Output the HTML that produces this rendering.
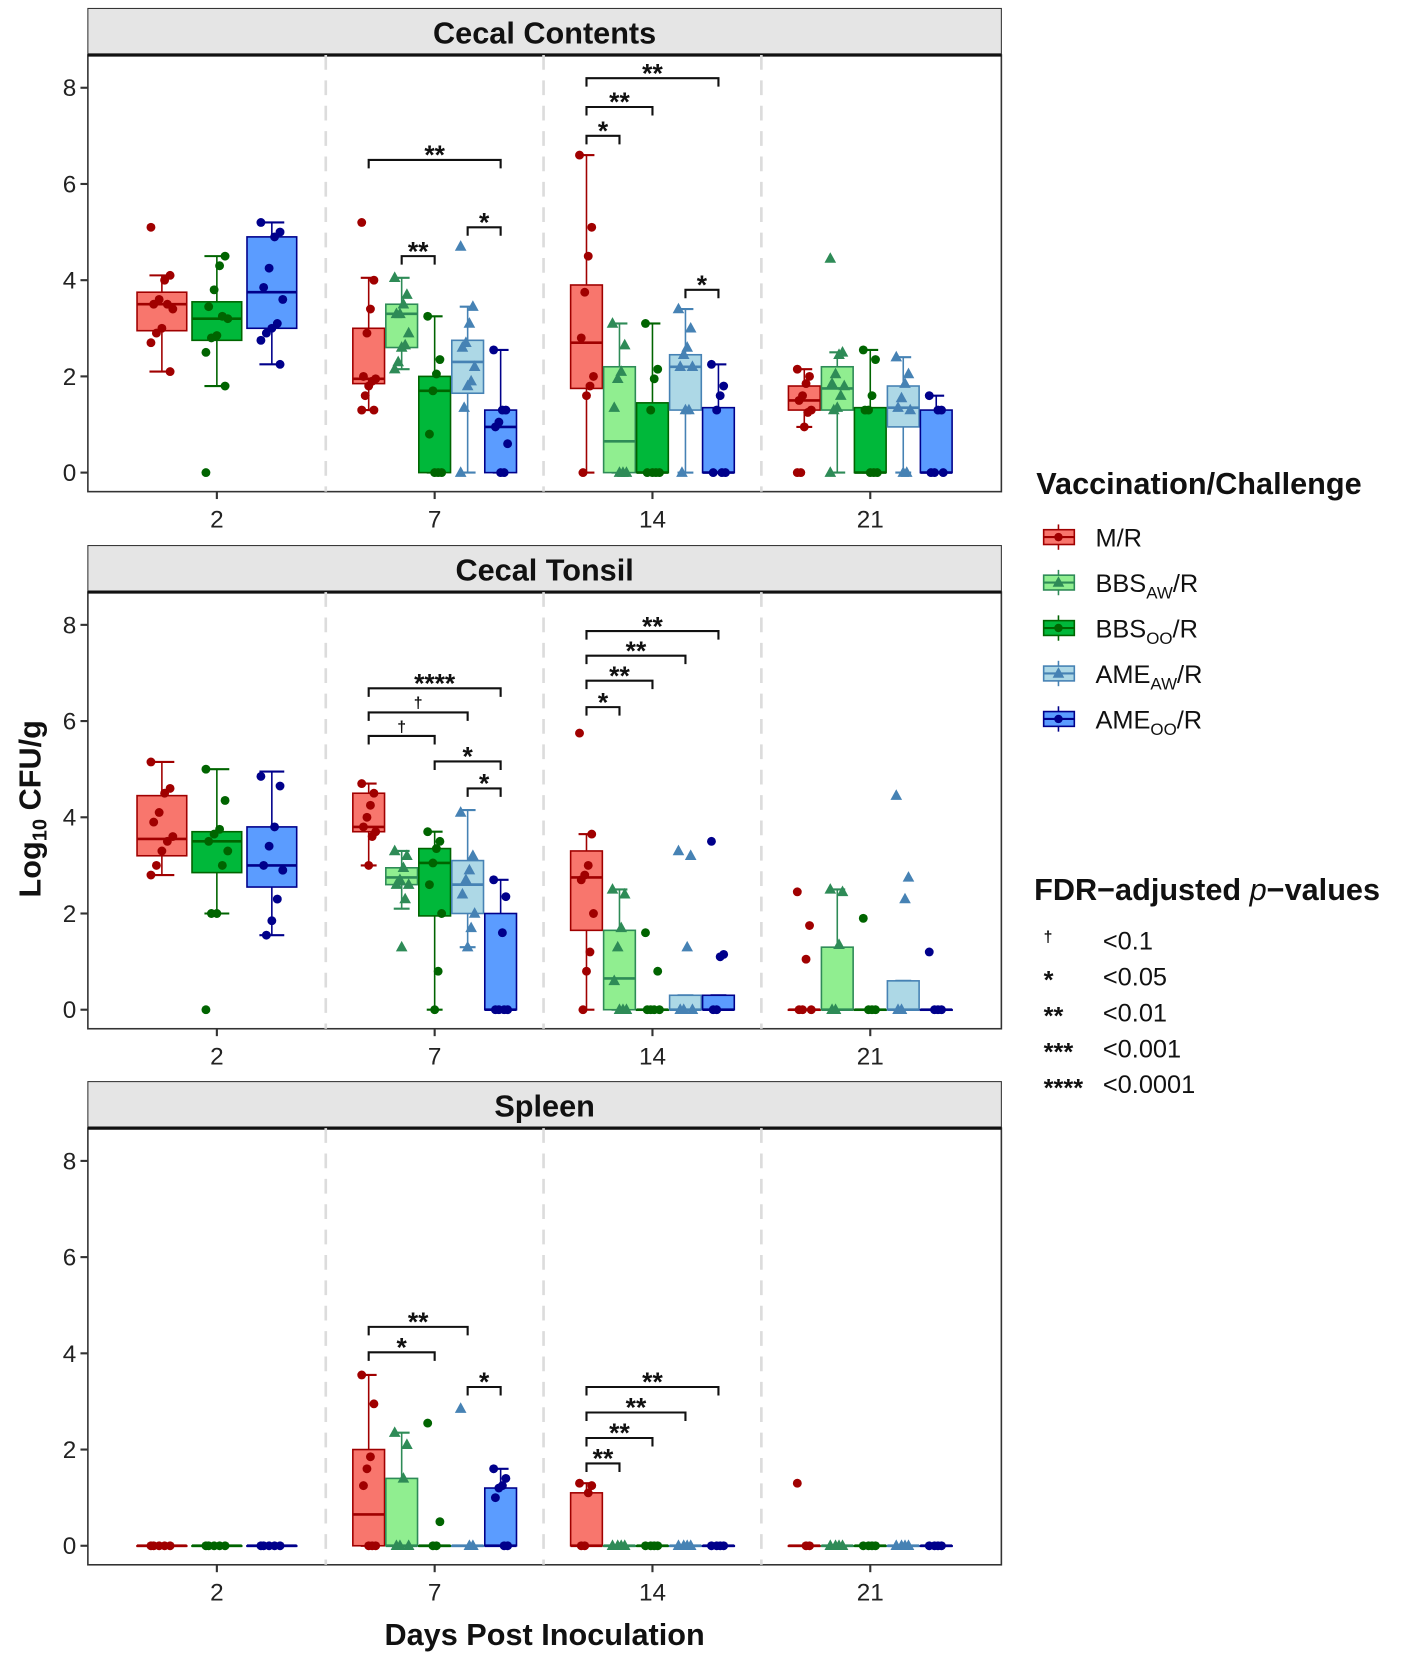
<!DOCTYPE html>
<html><head><meta charset="utf-8"><style>
html,body{margin:0;padding:0;background:#fff;}
svg{display:block;font-family:"Liberation Sans",Arial,sans-serif;}
</style></head><body>
<svg id="chart" width="1417" height="1661" viewBox="0 0 1340 1571" xmlns="http://www.w3.org/2000/svg"></svg>
<script>
// ---------- data ----------
const panelTitles = ["Cecal Contents","Cecal Tonsil","Spleen"];
const days = ["2","7","14","21"];
const groupNames = ["M/R","BBSAW/R","BBSOO/R","AMEAW/R","AMEOO/R"];
const yTicks = [0,2,4,6,8];
// box stats per [day][group]: [q1, median, q3, whiskerLow, whiskerHigh] (null = group absent)
const boxCC = [
 [[2.95,3.5,3.75,2.1,4.1],null,[2.75,3.2,3.55,1.8,4.5],null,[3.0,3.75,4.9,2.25,5.2]],
 [[1.85,1.95,3.0,1.3,4.05],[2.6,3.3,3.5,2.15,4.05],[0,1.7,2.0,0,3.25],[1.65,2.3,2.75,0,3.45],[0,0.95,1.3,0,2.55]],
 [[1.75,2.7,3.9,0,6.6],[0,0.65,2.2,0,3.1],[0,0,1.45,0,3.1],[1.3,2.2,2.45,0,3.4],[0,0,1.35,0,2.25]],
 [[1.3,1.5,1.8,0.95,2.15],[1.3,1.75,2.2,0,2.5],[0,0,1.35,0,2.55],[0.95,1.35,1.8,0,2.4],[0,0,1.3,0,1.6]]
];
const boxCT = [
 [[3.2,3.55,4.45,2.8,5.15],null,[2.85,3.5,3.7,2.0,5.0],null,[2.55,3.0,3.8,1.55,4.95]],
 [[3.7,3.8,4.5,3.0,4.7],[2.6,2.75,2.95,2.1,3.3],[1.95,3.05,3.35,0,3.7],[2.0,2.6,3.1,1.3,4.15],[0,0,2.0,0,2.7]],
 [[1.65,2.75,3.3,0,3.65],[0,0.65,1.65,0,2.5],[0,0,0,0,0],[0,0,0.3,0,0.3],[0,0,0.3,0,0.3]],
 [[0,0,0,0,0],[0,0,1.3,0,2.5],[0,0,0,0,0],[0,0,0.6,0,0.6],[0,0,0,0,0]]
];
const boxSP = [
 [[0,0,0,0,0],null,[0,0,0,0,0],null,[0,0,0,0,0]],
 [[0,0.65,2.0,0,3.55],[0,0,1.4,0,2.35],[0,0,0,0,0],[0,0,0,0,0],[0,0,1.2,0,1.6]],
 [[0,0,1.1,0,1.3],[0,0,0,0,0],[0,0,0,0,0],[0,0,0,0,0],[0,0,0,0,0]],
 [[0,0,0,0,0],[0,0,0,0,0],[0,0,0,0,0],[0,0,0,0,0],[0,0,0,0,0]]
];
// points
const ptsCC = [
 [[5.1,4.1,4.0,3.6,3.5,3.4,3.5,3.0,2.9,2.7,2.1],null,[0,4.5,4.3,3.8,3.45,3.2,3.25,2.85,2.8,2.5,1.8],null,[5.2,5.0,4.9,4.25,3.85,3.6,3.1,3.0,2.9,2.75,2.25]],
 [[5.2,4.0,3.4,2.9,2.0,1.95,1.9,1.8,1.6,1.3,1.3],[4.05,3.7,3.5,3.3,3.3,2.9,2.65,2.6,2.3,2.15],[3.25,2.35,2.05,1.7,0.8,0,0,0],[4.7,3.45,3.1,2.7,2.6,2.2,1.9,1.8,1.35,0],[2.55,1.3,1.3,1.05,0.95,0.6,0,0]],
 [[6.6,5.1,4.5,3.75,2.8,2.0,1.8,1.6,0],[3.1,2.65,2.1,1.95,1.35,0,0,0],[3.1,2.15,1.95,1.3,0,0,0,0],[3.4,3.0,2.6,2.45,2.2,2.2,1.3,1.3,0],[2.25,1.8,1.6,1.3,0,0,0]],
 [[2.15,2.0,1.85,1.6,1.5,1.3,1.25,0.95,0,0],[4.45,2.5,2.45,2.05,1.85,1.8,1.6,1.35,1.3,0],[2.55,2.35,1.6,1.3,1.3,0,0,0],[2.4,2.05,1.85,1.55,1.35,1.3,0,0],[1.6,1.3,1.3,0,0,0]]
];
const ptsCT = [
 [[5.15,4.6,4.5,4.1,3.9,3.6,3.5,3.3,3.0,2.8],null,[5.0,4.35,3.75,3.65,3.5,3.3,3.0,2.0,2.0,0],null,[4.85,4.65,3.8,3.4,3.0,2.9,2.3,1.85,1.55]],
 [[4.7,4.5,4.25,4.0,3.8,3.7,3.6,3.0],[3.3,3.2,2.95,2.7,2.6,2.6,2.3,1.3],[3.7,3.5,3.35,3.05,2.6,2.0,0.8,0],[4.1,3.2,2.9,2.7,2.4,2.0,1.7,1.3],[2.7,2.35,1.6,0,0,0,0]],
 [[5.75,3.65,3.0,2.8,2.7,2.0,1.2,0.8,0],[2.5,2.4,1.7,1.3,0.6,0,0,0],[1.6,0.8,0,0,0,0],[3.3,3.2,1.3,0,0,0],[3.5,1.15,1.1,0,0]],
 [[2.45,1.75,1.05,0,0,0],[2.5,2.45,1.35,0,0],[1.9,0,0,0],[4.45,2.75,2.3,0,0],[1.2,0,0,0]]
];
const ptsSP = [
 [[0,0,0,0,0],null,[0,0,0,0,0],null,[0,0,0,0,0]],
 [[3.55,2.95,1.85,1.6,1.25,0,0,0],[2.35,2.1,1.4,0,0,0],[2.55,0.5,0,0],[2.85,0,0],[1.6,1.4,1.25,1.2,1.0,0,0]],
 [[1.3,1.25,1.1,0,0],[0,0,0,0],[0,0,0,0],[0,0,0,0],[0,0,0,0]],
 [[1.3,0,0],[0,0,0,0],[0,0,0,0],[0,0,0,0],[0,0,0,0]]
];
// brackets: [day index, group a, group b, height (log units), label]
const brCC = [[1,0,4,6.5,"**"],[1,1,2,4.5,"**"],[1,3,4,5.1,"*"],[2,0,1,7.0,"*"],[2,0,2,7.6,"**"],[2,0,4,8.2,"**"],[2,3,4,3.8,"*"]];
const brCT = [[1,0,4,6.68,"****"],[1,0,3,6.18,"†"],[1,0,2,5.69,"†"],[1,2,4,5.16,"*"],[1,3,4,4.6,"*"],[2,0,4,7.87,"**"],[2,0,3,7.36,"**"],[2,0,2,6.84,"**"],[2,0,1,6.29,"*"]];
const brSP = [[1,0,3,4.55,"**"],[1,0,2,4.02,"*"],[1,3,4,3.3,"*"],[2,0,4,3.3,"**"],[2,0,3,2.77,"**"],[2,0,2,2.24,"**"],[2,0,1,1.71,"**"]];
const sigSymbols = ["†","*","**","***","****"];
const sigLabels = ["<0.1","<0.05","<0.01","<0.001","<0.0001"];

// ---------- styling ----------
const fills = ["#f8766d","#90ee90","#00b83a","#add8e6","#5b9cff"];
const strokes = ["#a00000","#2e8b57","#006400","#4682b4","#00008b"];
const triangle = [false,true,false,true,false];
const NS="http://www.w3.org/2000/svg";
const svg=document.getElementById('chart');
function mk(tag,attrs,parent){const e=document.createElementNS(NS,tag);for(const k in attrs)e.setAttribute(k,attrs[k]);(parent||svg).appendChild(e);return e;}

const PX0=83, PX1=947;
const panels=[{top:8,box:boxCC,pts:ptsCC,br:brCC},{top:516,box:boxCT,pts:ptsCT,br:brCT},{top:1023,box:boxSP,pts:ptsSP,br:brSP}];
const dayX=d=>205+206*d;

panels.forEach((p,pi)=>{
  const g=mk('g',{});
  
  
  const stripTop=p.top, plotTop=p.top+44, plotBot=p.top+457;
  const y0=plotBot-18, unit=45.5;
  const Y=v=>y0-v*unit;
  const strip=mk('rect',{x:PX0,y:stripTop,width:PX1-PX0,height:44,fill:'#e5e5e5',stroke:'#333','stroke-width':1},g);
  
  
  const st=mk('text',{x:(PX0+PX1)/2,y:stripTop+33,'text-anchor':'middle','font-size':29,'font-weight':'bold',fill:'#111'},g);
  st.textContent=panelTitles[pi];
  
  
  mk('rect',{x:PX0,y:plotTop,width:PX1-PX0,height:plotBot-plotTop,fill:'#fff',stroke:'#333','stroke-width':1.5},g);
  mk('line',{x1:PX0,x2:PX1,y1:plotTop,y2:plotTop,stroke:'#111','stroke-width':3},g);
  [308,514,720].forEach(x=>mk('line',{x1:x,x2:x,y1:plotTop,y2:plotBot,stroke:'#dcdcdc','stroke-width':2.5,'stroke-dasharray':'14,10'},g));
  yTicks.forEach(t=>{
    mk('line',{x1:PX0-7,x2:PX0,y1:Y(t),y2:Y(t),stroke:'#333','stroke-width':2},g);
    const tt=mk('text',{x:PX0-11,y:Y(t)+8,'text-anchor':'end','font-size':23,fill:'#222'},g);
    tt.textContent=t;
    
    
  });
  days.forEach((d,di)=>{
    mk('line',{x1:dayX(di),x2:dayX(di),y1:plotBot,y2:plotBot+7,stroke:'#333','stroke-width':2},g);
    const tt=mk('text',{x:dayX(di),y:plotBot+34,'text-anchor':'middle','font-size':23,fill:'#222'},g);
    tt.textContent=d;
    
    
    const present=p.box[di].map((b,i)=>b?i:-1).filter(i=>i>=0);
    const n=present.length, w=n===3?47:30, step=n===3?52:31.2;
    present.forEach((gi,k)=>{
      const cx=dayX(di)+(k-(n-1)/2)*step;
      const b=p.box[di][gi];
      const bg=mk('g',{},g);
      
      
      const sc=strokes[gi];
      mk('line',{x1:cx,x2:cx,y1:Y(b[4]),y2:Y(b[3]),stroke:sc,'stroke-width':1.5},bg);
      mk('line',{x1:cx-w/4,x2:cx+w/4,y1:Y(b[4]),y2:Y(b[4]),stroke:sc,'stroke-width':2},bg);
      mk('line',{x1:cx-w/4,x2:cx+w/4,y1:Y(b[3]),y2:Y(b[3]),stroke:sc,'stroke-width':2},bg);
      mk('rect',{x:cx-w/2,y:Y(b[2]),width:w,height:Math.max(Y(b[0])-Y(b[2]),0.5),fill:fills[gi],stroke:sc,'stroke-width':1.5},bg);
      mk('line',{x1:cx-w/2,x2:cx+w/2,y1:Y(b[1]),y2:Y(b[1]),stroke:sc,'stroke-width':2.5},bg);
      const pts=p.pts[di][gi]||[];
      pts.forEach((v,i)=>{
        const jx=cx+(((i*7)%9)-4)/4*(w*0.22);
        let m;
        if(triangle[gi]){
          const py=Y(v);
          m=mk('polygon',{points:`${jx},${py-6} ${jx-5.5},${py+4} ${jx+5.5},${py+4}`,fill:sc},bg);
        } else {
          m=mk('circle',{cx:jx,cy:Y(v),r:4.2,fill:sc},bg);
        }
        
        
      });
    });
  });
  p.br.forEach(b=>{
    const [di,a,c,h,lab]=b;
    const cxA=dayX(di)+(a-2)*31.2, cxB=dayX(di)+(c-2)*31.2, yy=Y(h);
    const bg=mk('g',{},g);
    
    
    mk('path',{d:`M${cxA},${yy+8}V${yy}H${cxB}V${yy+8}`,fill:'none',stroke:'#111','stroke-width':2},bg);
    const lt=mk('text',{x:(cxA+cxB)/2,y:lab==='†'?yy-4:yy+4,'text-anchor':'middle','font-size':lab==='†'?15:25,'font-weight':'bold',fill:'#111'},bg);
    lt.textContent=lab;
  });
});

// axis titles
const yt=mk('text',{x:0,y:0,transform:'translate(38,765) rotate(-90)','text-anchor':'middle','font-size':29,'font-weight':'bold',fill:'#111'});
yt.innerHTML='Log<tspan font-size="19" dy="6">10</tspan><tspan dy="-6"> CFU/g</tspan>';


const xt=mk('text',{x:515,y:1556,'text-anchor':'middle','font-size':29,'font-weight':'bold',fill:'#111'});
xt.textContent='Days Post Inoculation';



// legend
const lg=mk('g',{});


const lt=mk('text',{x:980,y:467,'font-size':29,'font-weight':'bold',fill:'#111'},lg);
lt.textContent='Vaccination/Challenge';
const labHTML=['M/R','BBS<tspan font-size="16" dy="6">AW</tspan><tspan dy="-6">/R</tspan>','BBS<tspan font-size="16" dy="6">OO</tspan><tspan dy="-6">/R</tspan>','AME<tspan font-size="16" dy="6">AW</tspan><tspan dy="-6">/R</tspan>','AME<tspan font-size="16" dy="6">OO</tspan><tspan dy="-6">/R</tspan>'];
groupNames.forEach((n,i)=>{
  const yy=508+43*i;
  const e=mk('g',{},lg);
  
  
  mk('line',{x1:1001,x2:1001,y1:yy-12,y2:yy+12,stroke:strokes[i],'stroke-width':1.5},e);
  mk('rect',{x:987,y:yy-7,width:29,height:14,fill:fills[i],stroke:strokes[i],'stroke-width':1.5},e);
  mk('line',{x1:987,x2:1016,y1:yy,y2:yy,stroke:strokes[i],'stroke-width':2},e);
  if(triangle[i]) mk('polygon',{points:`1001,${yy-6} 995.5,${yy+4} 1006.5,${yy+4}`,fill:strokes[i]},e);
  else mk('circle',{cx:1001,cy:yy,r:4,fill:strokes[i]},e);
  const t=mk('text',{x:1036,y:yy+9,'font-size':24,fill:'#111'},e);
  t.innerHTML=labHTML[i];
});
const ft=mk('text',{x:978,y:851,'font-size':29,'font-weight':'bold',fill:'#111'},lg);
ft.innerHTML='FDR−adjusted <tspan font-style="italic" font-weight="normal">p</tspan>−values';
sigSymbols.forEach((s,i)=>{
  const yy=889+34*i;
  const e=mk('g',{},lg);
  
  
  const a=mk('text',{x:987,y:s==='†'?yy+2:yy+12,'font-size':s==='†'?15:24,'font-weight':'bold',fill:'#111'},e);
  a.textContent=s;
  const b=mk('text',{x:1043,y:yy+9,'font-size':24,fill:'#111'},e);
  b.textContent=sigLabels[i];
});
</script>
</body></html>
